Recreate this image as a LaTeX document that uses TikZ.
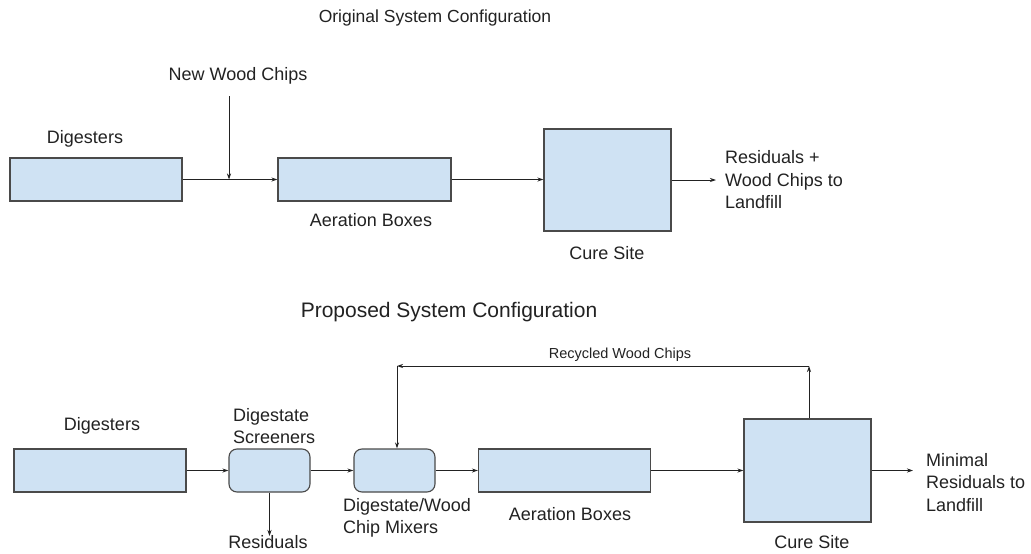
\documentclass[tikz,border=0pt]{standalone}
\usepackage{fontspec}
\setmainfont{Liberation Sans}
\usetikzlibrary{arrows.meta,positioning}
\definecolor{boxfill}{HTML}{CFE2F3}
\definecolor{boxline}{HTML}{4A4A4A}
\definecolor{inkgray}{HTML}{222222}

\tikzset{
  unit/.style={draw=boxline,fill=boxfill,line width=1.1pt,inner sep=0pt},
  roundunit/.style={unit,rounded corners=8pt},
  flow/.style={-{Stealth[length=6pt,width=4pt]},line width=0.8pt,draw=inkgray},
  lbl/.style={text=inkgray,inner sep=0pt,font=\fontsize{18}{22.5}\selectfont},
  multi/.style={lbl,align=left,anchor=west},
  title/.style={text=inkgray,inner sep=0pt}
}

\begin{document}
\begin{tikzpicture}[x=1pt,y=-1pt]
\useasboundingbox[fill=white] (0,0) rectangle (1031,554);

% original layout
\node[title,font=\fontsize{17.5}{21}\selectfont] (ttlold) at (435,18) {Original System Configuration};
\node[unit,minimum width=172pt,minimum height=43pt] (digold) at (96,179.5) {};
\node[unit,minimum width=173pt,minimum height=43pt] (aerold) at (364.5,179.5) {};
\node[unit,minimum width=127pt,minimum height=102pt] (cureold) at (607.5,180) {};
\node[lbl] (digoldlbl) at (85,139) {Digesters};
\node[lbl] (aeroldlbl) at (371,220) {Aeration Boxes};
\node[lbl] (cureoldlbl) at (607,253) {Cure Site};
\node[lbl] (chips) at (238,76) {New Wood Chips};
\node[multi] (landold) at (725,180) {Residuals +\\Wood Chips to\\Landfill};
\coordinate (chipsin) at (229,96);
\coordinate (outold) at (716,180);

\draw[flow] (digold.east) -- (aerold.west);
\draw[flow] (chipsin) -- (chipsin |- digold.east);
\draw[flow] (aerold.east) -- (cureold.west |- aerold.east);
\draw[flow] (cureold.east |- outold) -- (outold);

% proposed layout
\node[title,font=\fontsize{21}{25}\selectfont] (ttlnew) at (449,312) {Proposed System Configuration};
\node[unit,minimum width=172pt,minimum height=43pt] (dignew) at (100,470.5) {};
\node[roundunit,minimum width=81pt,minimum height=43pt] (screen) at (269.5,470.5) {};
\node[roundunit,minimum width=81pt,minimum height=43pt] (mixer) at (394.5,470.5) {};
\node[unit,minimum width=172pt,minimum height=43pt] (aernew) at (564.5,470.5) {};
\node[unit,minimum width=127pt,minimum height=103pt] (curenew) at (807.5,470.5) {};
\node[lbl] (dignewlbl) at (102,426) {Digesters};
\node[lbl,align=left,anchor=west] (screenlbl) at (233,426) {Digestate\\Screeners};
\node[lbl,align=left,anchor=west] (mixerlbl) at (343,518) {Digestate/Wood\\Chip Mixers};
\node[lbl] (aernewlbl) at (570,514) {Aeration Boxes};
\node[lbl] (curenewlbl) at (812,542) {Cure Site};
\node[lbl] (resid) at (268,542.5) {Residuals};
\node[multi] (landnew) at (926,482.5) {Minimal\\Residuals to\\Landfill};
\node[title,font=\fontsize{14.5}{17}\selectfont] (recyc) at (620,355) {Recycled Wood Chips};
\coordinate (residout) at (269.5,536);
\coordinate (outnew) at (913,470.5);
\coordinate (upright) at (809,366);
\coordinate (upleft) at (397,366);

\draw[flow] (dignew.east) -- (screen.west);
\draw[flow] (screen.east) -- (mixer.west);
\draw[flow] (mixer.east) -- (aernew.west);
\draw[flow] (aernew.east) -- (curenew.west);
\draw[flow] (curenew.east) -- (outnew);
\draw[flow] (screen.south) -- (residout);
\draw[flow] (upright |- curenew.north) -- (upright);
\draw[flow] (upright) -- (upleft);
\draw[flow] (upleft) -- (upleft |- mixer.north);
\end{tikzpicture}
\end{document}
